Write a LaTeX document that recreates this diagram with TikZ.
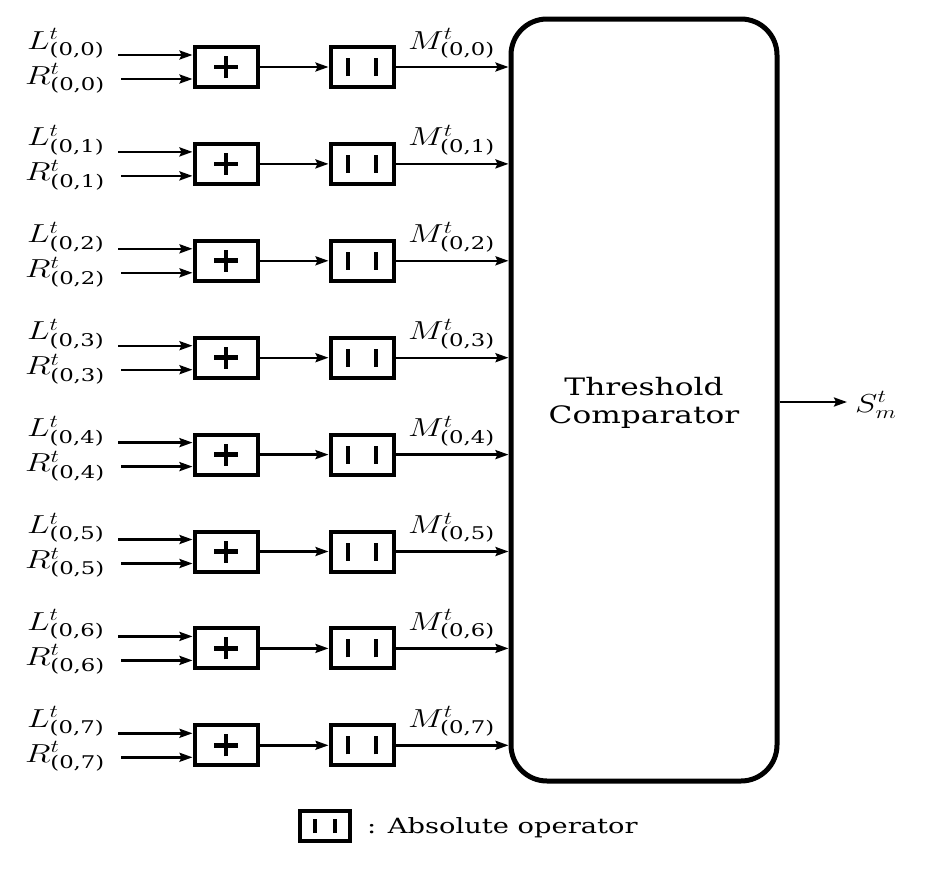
\RequirePackage{fix-cm}
\documentclass[tikz,border=0pt]{standalone}
\usepackage{graphicx}
\usepackage{fontspec}
\setmainfont{DejaVu Serif}[FakeStretch=1.3]
\newfontfamily\subf{DejaVu Serif}
\usetikzlibrary{arrows.meta,calc}
\newcommand\lbltxt[3]{\scalebox{1.3}[1]{$#1^{#2}_{\mbox{\fontsize{17.5}{17.5}\subf #3}}$}}
\tikzset{
  opbox/.style={draw,line width=4pt,minimum width=63pt,minimum height=40pt,inner sep=0pt},
  arr/.style={line width=2.4pt,-{Stealth[length=13pt,width=9pt,inset=2pt]}},
  sym/.style={line width=4.8pt},
  lbl/.style={inner sep=0pt,anchor=base west,font=\fontsize{26}{30}\selectfont},
}
\begin{document}
\begin{tikzpicture}[x=1pt,y=-1pt]
\useasboundingbox (0,0) rectangle (927,870);
\node[draw,line width=5pt,rounded corners=36pt,minimum width=266pt,minimum height=762pt,inner sep=0pt,
  align=center,font=\fontsize{24}{28}\selectfont] (main) at (644,400) {};
\node[align=center,inner sep=0pt,font=\fontsize{24}{28}\selectfont] (mtxt) at (644,403) {Threshold\\Comparator};
\foreach \k in {0,...,7}{
  \pgfmathsetmacro{\yc}{67+96.9*\k}
  \node[opbox] (p\k) at (226,\yc) {};
  \draw[sym] ([xshift=-12pt]p\k.center) -- ([xshift=12pt]p\k.center);
  \draw[sym] ([yshift=-11pt]p\k.center) -- ([yshift=11pt]p\k.center);
  \node[opbox] (a\k) at (362,\yc) {};
  \draw[sym] ([xshift=-14pt,yshift=-9pt]a\k.center) -- ([xshift=-14pt,yshift=9pt]a\k.center);
  \draw[sym] ([xshift=14pt,yshift=-9pt]a\k.center) -- ([xshift=14pt,yshift=9pt]a\k.center);
  \coordinate (l\k) at (118,\yc-12);
  \coordinate (r\k) at (121,\yc+12);
  \draw[arr] (l\k) -- (l\k -| p\k.west);
  \draw[arr] (r\k) -- (r\k -| p\k.west);
  \draw[arr] (p\k.east) -- (a\k.west);
  \draw[arr] (a\k.east) -- (a\k.east -| main.west);
  \node[lbl] (ll\k) at (27,\yc-18) {\lbltxt{L}{t}{(0,\k)}};
  \node[lbl] (rl\k) at (25,\yc+17) {\lbltxt{R}{t}{(0,\k)}};
  \node[lbl] (ml\k) at (408,\yc-18) {\lbltxt{M}{t}{(0,\k)}};
}
\coordinate (sout) at (847,402);
\draw[arr] (sout -| main.east) -- (sout);
\node[lbl] (sl) at (855,412) {\scalebox{1.3}[1]{$S^t_m$}};
\node[draw,line width=3.5pt,minimum width=50pt,minimum height=30pt,inner sep=0pt] (leg) at (325,826) {};
\draw[line width=3.5pt] ([xshift=-10pt,yshift=-7pt]leg.center) -- ([xshift=-10pt,yshift=7pt]leg.center);
\draw[line width=3.5pt] ([xshift=10pt,yshift=-7pt]leg.center) -- ([xshift=10pt,yshift=7pt]leg.center);
\node[anchor=base west,inner sep=0pt,font=\fontsize{21}{25}\selectfont] (legt) at (367,833) {: Absolute operator};
\end{tikzpicture}
\end{document}
